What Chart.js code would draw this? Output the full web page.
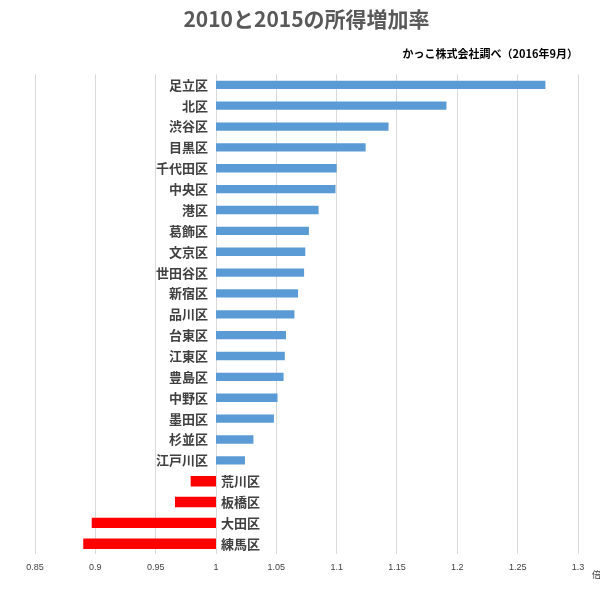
<!DOCTYPE html>
<html>
<head>
<meta charset="utf-8">
<script src="https://cdn.jsdelivr.net/npm/chart.js@4"></script>
<style>
  body { margin: 0; background: #fff; }
  #wrap { width: 600px; height: 589px; }
</style>
</head>
<body>
<div id="wrap"><canvas id="incomeChart"></canvas></div>
<script>
// wards and income ratio 2015/2010
const wards = ['足立区', '北区', '渋谷区', '目黒区', '千代田区', '中央区', '港区', '葛飾区', '文京区', '世田谷区',
  '新宿区', '品川区', '台東区', '江東区', '豊島区', '中野区', '墨田区', '杉並区', '江戸川区',
  '荒川区', '板橋区', '大田区', '練馬区'];
const ratios = [1.273, 1.191, 1.143, 1.124, 1.100, 1.099, 1.085, 1.077, 1.074, 1.073,
  1.068, 1.065, 1.058, 1.057, 1.056, 1.051, 1.048, 1.031, 1.024,
  0.979, 0.966, 0.897, 0.890];
const baseValue = 1;
const xTicks = [0.85, 0.9, 0.95, 1, 1.05, 1.1, 1.15, 1.2, 1.25, 1.3];

// category labels sit next to the base line (like the Excel axis labels)
const wardLabels = {
  id: 'wardLabels',
  afterDatasetsDraw(chart) {
    const ctx = chart.ctx;
    const x = chart.scales.x.getPixelForValue(baseValue);
    const y = chart.scales.y;
    ctx.save();
    ctx.font = 'bold 13px "Noto Sans CJK JP"';
    ctx.fillStyle = '#404040';
    ctx.textBaseline = 'middle';
    wards.forEach((w, i) => {
      const py = y.getPixelForValue(i);
      if (ratios[i] >= baseValue) {
        ctx.textAlign = 'right';
        ctx.fillText(w, x - 8, py);
      } else {
        ctx.textAlign = 'left';
        ctx.fillText(w, x + 5, py);
      }
    });
    ctx.font = '9px "Noto Sans CJK JP"';
    ctx.textAlign = 'left';
    ctx.fillText('倍', chart.chartArea.right + 14, chart.chartArea.bottom + 20);
    ctx.restore();
  }
};

new Chart(document.getElementById('incomeChart'), {
  type: 'bar',
  data: {
    labels: wards,
    datasets: [{
      data: ratios.map(v => v >= baseValue ? [baseValue, v] : null),
      backgroundColor: '#5B9BD5',
      categoryPercentage: 1,
      barPercentage: 0.4
    }, {
      data: ratios.map(v => v < baseValue ? [baseValue, v] : null),
      backgroundColor: '#FF0000',
      categoryPercentage: 1,
      barPercentage: 0.5
    }]
  },
  options: {
    indexAxis: 'y',
    responsive: true,
    maintainAspectRatio: false,
    animation: false,
    datasets: { bar: { grouped: false } },
    layout: { padding: { left: 35, right: 22, bottom: 8, top: 0 } },
    plugins: {
      legend: { display: false },
      tooltip: { enabled: false },
      title: {
        display: true,
        text: '2010と2015の所得増加率',
        color: '#595959',
        font: { size: 21, weight: 'bold', family: '"Noto Sans CJK JP"' },
        padding: { top: 6, bottom: 16 }
      },
      subtitle: {
        display: true,
        text: 'かっこ株式会社調べ（2016年9月）',
        align: 'end',
        color: '#000',
        font: { size: 11, weight: 'bold', family: '"Noto Sans CJK JP"' },
        padding: { bottom: 14 }
      }
    },
    scales: {
      x: {
        min: 0.85,
        max: 1.3,
        afterBuildTicks(axis) { axis.ticks = xTicks.map(v => ({ value: v })); },
        ticks: {
          color: '#404040',
          font: { size: 9 },
          padding: 8,
          callback: v => String(Math.round(v * 100) / 100)
        },
        grid: { color: '#D9D9D9', drawTicks: false },
        border: { display: false }
      },
      y: {
        display: false,
        offset: true
      }
    }
  },
  plugins: [wardLabels]
});
</script>
</body>
</html>
